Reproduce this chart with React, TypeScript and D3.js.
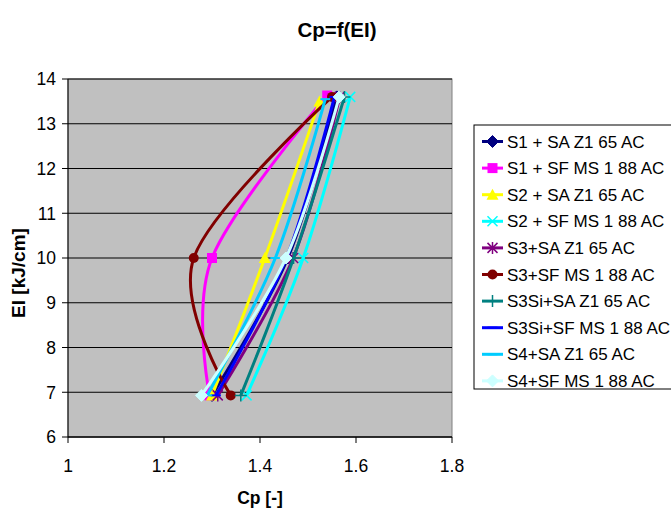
import React from 'react';
import * as d3 from 'd3';

const seriesNames = [
  'S1 + SA Z1 65 AC',
  'S1 + SF MS 1 88 AC',
  'S2 + SA Z1 65 AC',
  'S2 + SF MS 1 88 AC',
  'S3+SA Z1 65 AC',
  'S3+SF MS 1 88 AC',
  'S3Si+SA Z1 65 AC',
  'S3Si+SF MS 1 88 AC',
  'S4+SA Z1 65 AC',
  'S4+SF MS 1 88 AC',
];
const seriesColors = ['#000080', '#FF00FF', '#FFFF00', '#00FFFF', '#800080', '#800000', '#008080', '#0000FF', '#00CCFF', '#CCFFFF'];
const seriesMarkers = ['diamond', 'square', 'triangle', 'x', 'star', 'circle', 'plus', 'dash', 'dash', 'diamond'];

const cpS1SA = [1.300, 1.458, 1.560];
const cpS1SF = [1.295, 1.300, 1.540];
const cpS2SA = [1.300, 1.410, 1.524];
const cpS2SF = [1.372, 1.490, 1.588];
const cpS3SA = [1.312, 1.469, 1.566];
const cpS3SF = [1.339, 1.262, 1.550];
const cpS3SiSA = [1.360, 1.470, 1.576];
const cpS3SiSF = [1.308, 1.455, 1.555];
const cpS4SA = [1.290, 1.432, 1.536];
const cpS4SF = [1.278, 1.454, 1.565];

const elS1SA = [6.93, 10, 13.6];
const elS1SF = [6.93, 10, 13.63];
const elS2SA = [6.93, 10, 13.5];
const elS2SF = [6.93, 10, 13.6];
const elS3SA = [6.93, 10, 13.6];
const elS3SF = [6.93, 10, 13.6];
const elS3SiSA = [6.93, 10, 13.6];
const elS3SiSF = [6.93, 10, 13.6];
const elS4SA = [6.93, 10, 13.55];
const elS4SF = [6.93, 10, 13.6];

const cpSeries = [cpS1SA, cpS1SF, cpS2SA, cpS2SF, cpS3SA, cpS3SF, cpS3SiSA, cpS3SiSF, cpS4SA, cpS4SF];
const elSeries = [elS1SA, elS1SF, elS2SA, elS2SF, elS3SA, elS3SF, elS3SiSA, elS3SiSF, elS4SA, elS4SF];

const xTicks = [1, 1.2, 1.4, 1.6, 1.8];
const yTicks = [6, 7, 8, 9, 10, 11, 12, 13, 14];

const W = 671;
const H = 509;
const plot = { left: 68, right: 452, top: 79, bottom: 437 };
const font = 'Liberation Sans, Arial, sans-serif';

function Marker({ type, x, y, color }: { type: string; x: number; y: number; color: string }) {
  const s = 5;
  switch (type) {
    case 'diamond':
      return <path d={`M${x},${y - s - 1}L${x + s + 1},${y}L${x},${y + s + 1}L${x - s - 1},${y}Z`} fill={color} stroke={color} strokeWidth={1} />;
    case 'square':
      return <rect x={x - s} y={y - s} width={2 * s} height={2 * s} fill={color} />;
    case 'triangle':
      return <path d={`M${x},${y - s - 1}L${x + s + 1},${y + s}L${x - s - 1},${y + s}Z`} fill={color} />;
    case 'x':
      return <path d={`M${x - s},${y - s}L${x + s},${y + s}M${x - s},${y + s}L${x + s},${y - s}`} stroke={color} strokeWidth={1.5} fill="none" />;
    case 'star':
      return <path d={`M${x - s},${y - s}L${x + s},${y + s}M${x - s},${y + s}L${x + s},${y - s}M${x},${y - s - 1}L${x},${y + s + 1}`} stroke={color} strokeWidth={1.5} fill="none" />;
    case 'circle':
      return <circle cx={x} cy={y} r={s} fill={color} />;
    case 'plus':
      return <path d={`M${x - s - 1},${y}L${x + s + 1},${y}M${x},${y - s - 1}L${x},${y + s + 1}`} stroke={color} strokeWidth={1.5} fill="none" />;
    case 'dash':
      return <path d={`M${x - s},${y}L${x + s},${y}`} stroke={color} strokeWidth={2} fill="none" />;
    default:
      return null;
  }
}

export default function App() {
  const x = d3.scaleLinear().domain([1, 1.8]).range([plot.left, plot.right]);
  const y = d3.scaleLinear().domain([6, 14]).range([plot.bottom, plot.top]);
  const line = d3
    .line<[number, number]>()
    .x((d) => x(d[0]))
    .y((d) => y(d[1]))
    .curve(d3.curveCardinal.tension(0));

  const legend = { left: 474, top: 125, right: 676, bottom: 389, rowH: 26.6, firstY: 141.5 };

  return (
    <svg width={W} height={H} style={{ position: 'absolute', left: 0, top: 0, background: '#fff' }} fontFamily={font}>
      <rect x={0} y={0} width={W} height={H} fill="#fff" />
      <text x={337} y={37} textAnchor="middle" fontSize={20.5} fontWeight="bold">
        Cp=f(EI)
      </text>
      <rect x={plot.left} y={plot.top} width={plot.right - plot.left} height={plot.bottom - plot.top} fill="#C0C0C0" stroke="#808080" strokeWidth={1} />
      {yTicks.map((t) => (
        <line key={'g' + t} x1={plot.left} x2={plot.right} y1={y(t)} y2={y(t)} stroke="#000" strokeWidth={1} />
      ))}
      <line x1={plot.left} x2={plot.left} y1={plot.top} y2={plot.bottom} stroke="#000" />
      <line x1={plot.left} x2={plot.right} y1={plot.bottom} y2={plot.bottom} stroke="#000" />
      {yTicks.map((t) => (
        <g key={'yt' + t}>
          <line x1={plot.left - 6} x2={plot.left} y1={y(t)} y2={y(t)} stroke="#000" />
          <text x={56} y={y(t)} dy="0.36em" textAnchor="end" fontSize={17.5}>
            {t}
          </text>
        </g>
      ))}
      {xTicks.map((t) => (
        <g key={'xt' + t}>
          <line x1={x(t)} x2={x(t)} y1={plot.bottom} y2={plot.bottom + 6} stroke="#000" />
          <text x={x(t)} y={472} textAnchor="middle" fontSize={17.5}>
            {d3.format('~g')(t)}
          </text>
        </g>
      ))}
      <text x={260} y={504} textAnchor="middle" fontSize={17.5} fontWeight="bold">
        Cp [-]
      </text>
      <text transform={`translate(25,${(plot.top + plot.bottom) / 2 + 15}) rotate(-90)`} textAnchor="middle" fontSize={19} fontWeight="bold">
        EI [kJ/cm]
      </text>
      <g>
        {cpSeries.map((cps, i) => {
          const pts = cps.map((c, j) => [c, elSeries[i][j]] as [number, number]);
          return (
            <g key={'s' + i}>
              <path d={line(pts) || ''} fill="none" stroke={seriesColors[i]} strokeWidth={3} />
              {pts.map((p, j) => (
                <Marker key={j} type={seriesMarkers[i]} x={x(p[0])} y={y(p[1])} color={seriesColors[i]} />
              ))}
            </g>
          );
        })}
      </g>
      <rect x={legend.left} y={legend.top} width={legend.right - legend.left} height={legend.bottom - legend.top} fill="#fff" stroke="#000" strokeWidth={1} />
      {seriesNames.map((n, i) => {
        const cy = legend.firstY + i * legend.rowH;
        return (
          <g key={'l' + i}>
            <line x1={482} x2={503} y1={cy} y2={cy} stroke={seriesColors[i]} strokeWidth={3} />
            <Marker type={seriesMarkers[i]} x={492.5} y={cy} color={seriesColors[i]} />
            <text x={507} y={cy} dy="0.36em" fontSize={17}>
              {n}
            </text>
          </g>
        );
      })}
    </svg>
  );
}
